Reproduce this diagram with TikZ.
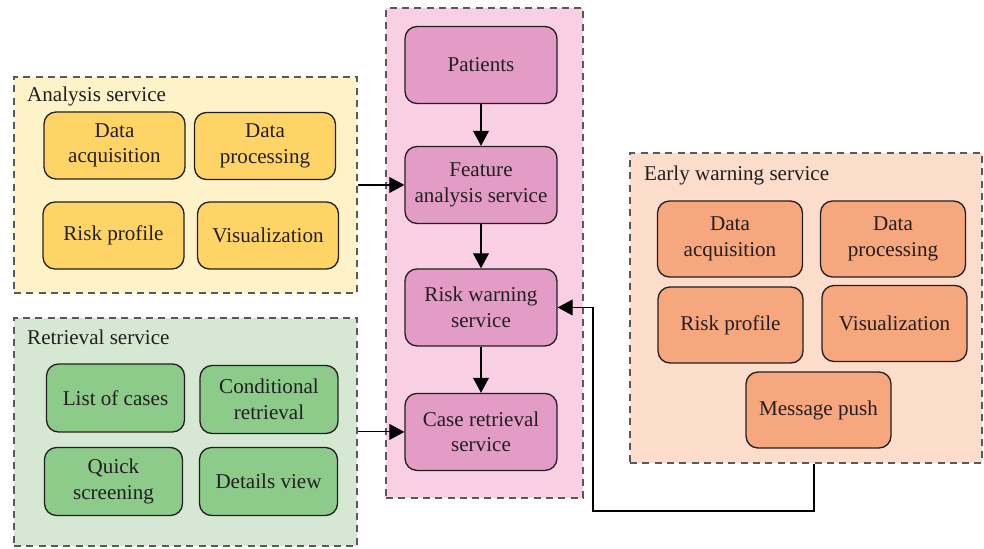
\documentclass[tikz,border=0pt]{standalone}
\usepackage{fontspec}
\setmainfont{Liberation Serif}
\usetikzlibrary{positioning,arrows.meta}

\definecolor{anabg}{HTML}{FEF2C8}
\definecolor{anabox}{HTML}{FFD466}
\definecolor{retbg}{HTML}{D6E8D3}
\definecolor{retbox}{HTML}{8DCB8B}
\definecolor{midbg}{HTML}{F9D0E3}
\definecolor{midbox}{HTML}{E39CC6}
\definecolor{warnbg}{HTML}{FCDCCB}
\definecolor{warnbox}{HTML}{F7A77D}
\definecolor{ink}{HTML}{231F20}

\tikzset{
  group/.style={draw=black!65, line width=0.75pt, dash pattern=on 4pt off 3pt},
  box/.style={draw=ink, line width=0.75pt, rounded corners=0.24cm, align=center,
    text=ink, inner sep=2pt},
  abox/.style={box, fill=anabox, minimum width=2.82cm, minimum height=1.34cm},
  rbox/.style={box, fill=retbox, minimum width=2.76cm, minimum height=1.36cm},
  mbox/.style={box, fill=midbox, minimum width=3.04cm, minimum height=1.54cm},
  wbox/.style={box, fill=warnbox, minimum width=2.9cm, minimum height=1.52cm},
  title/.style={anchor=west, text=ink},
}

\begin{document}
\begin{tikzpicture}[x=0.02cm, y=-0.02cm, >={Triangle[length=8.5pt,width=9pt]},
    font=\fontsize{12}{14.5}\selectfont]
  \useasboundingbox (0,0) rectangle (984,548);

  % service containers
  \node[group, fill=anabg, minimum width=6.86cm, minimum height=4.32cm] (ana) at (185.5,185) {};
  \node[group, fill=retbg, minimum width=6.86cm, minimum height=4.56cm] (ret) at (185.5,432) {};
  \node[group, fill=midbg, minimum width=3.94cm, minimum height=9.8cm] (mid) at (484.5,253) {};
  \node[group, fill=warnbg, minimum width=7.04cm, minimum height=6.2cm] (early) at (806,308) {};

  \node[title] (analbl) at (21,96) {Analysis service};
  \node[title] (retlbl) at (21,337) {Retrieval service};
  \node[title] (earlylbl) at (638,175) {Early warning service};

  % analysis service
  \node[abox] (aacq) at (114.5,145.5) {Data\\acquisition};
  \node[abox] (aproc) at (265,146) {Data\\processing};
  \node[abox] (arisk) at (113.5,235.5) {Risk profile};
  \node[abox] (avis) at (268,235.5) {Visualization};

  % retrieval service
  \node[rbox] (rlist) at (115.5,398) {List of cases};
  \node[rbox] (rcond) at (269,399.5) {Conditional\\retrieval};
  \node[rbox] (rquick) at (113.5,481.5) {Quick\\screening};
  \node[rbox] (rdet) at (268.5,481.5) {Details view};

  % main column
  \node[mbox] (pat) at (481,65) {Patients};
  \node[mbox, below of=pat, yshift=-1.4cm] (feat) {Feature\\analysis service};
  \node[mbox, below of=feat, yshift=-1.45cm] (warn) {Risk warning\\service};
  \node[mbox, below of=warn, yshift=-1.49cm] (case) {Case retrieval\\service};

  % early warning service
  \node[wbox] (wacq) at (730,239) {Data\\acquisition};
  \node[wbox] (wproc) at (893,239) {Data\\processing};
  \node[wbox] (wrisk) at (730.5,325) {Risk profile};
  \node[wbox] (wvis) at (894.5,323.5) {Visualization};
  \node[wbox] (wpush) at (818.5,410) {Message push};

  \coordinate (bend) at (593,511);

  \draw[->, line width=0.6pt] (pat) -- (feat);
  \draw[->, line width=0.6pt] (feat) -- (warn);
  \draw[->, line width=0.6pt] (warn) -- (case);
  \draw[->, line width=0.6pt] (ana.east |- feat) -- (feat);
  \draw[->, line width=0.6pt] (ret.east |- case) -- (case);
  \draw[->, line width=0.6pt] (early.south -| wpush) ++(-4.5,0) |- (bend) |- (warn.east);
\end{tikzpicture}
\end{document}
